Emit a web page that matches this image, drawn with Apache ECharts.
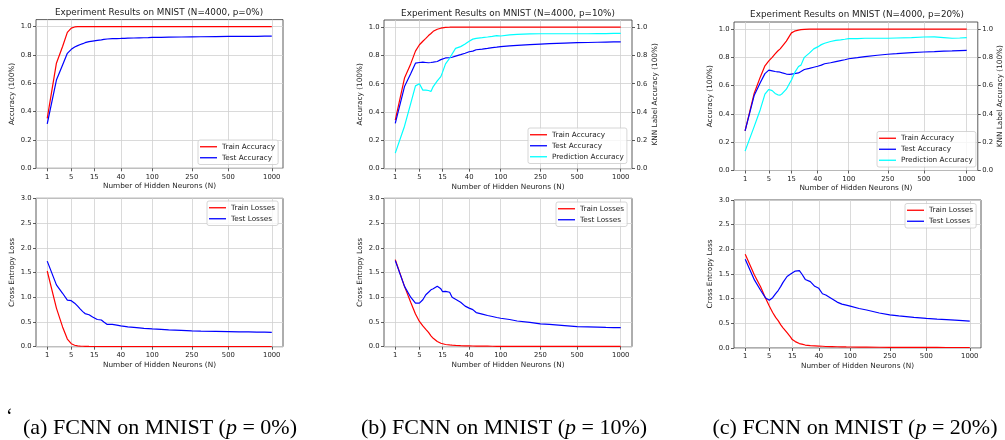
<!DOCTYPE html>
<html><head><meta charset="utf-8">
<script src="https://cdn.jsdelivr.net/npm/echarts@6/dist/echarts.min.js"></script>
<style>html,body{margin:0;padding:0;background:#fff}#c{width:1005px;height:440px}</style>
</head><body><div id="c"></div>
<script>
// ---------------- data ----------------
const hiddenNeurons = [1,2,3,4,5,6,7,8,9,10,12,14,15,17,20,22,25,30,35,40,45,50,60,70,80,90,100,125,150,200,250,300,400,500,600,700,800,900,1000];
const xTicks = [1,5,15,40,100,250,500,1000];
const accTicks = [0,0.2,0.4,0.6,0.8,1.0];
const lossTicks = [0,0.5,1.0,1.5,2.0,2.5,3.0];
const panelTitles = ['Experiment Results on MNIST (N=4000, p=0%)','Experiment Results on MNIST (N=4000, p=10%)','Experiment Results on MNIST (N=4000, p=20%)'];
const captionLabels = ['(a) FCNN on MNIST (','(b) FCNN on MNIST (','(c) FCNN on MNIST ('];
const captionP = ['0%)','10%)','20%)'];

// p = 0%
const aTrainAcc = [0.353,0.742,0.86,0.96,0.99,0.998,1,1,1,1,1,1,1,1,1,1,1,1,1,1,1,1,1,1,1,1,1,1,1,1,1,1,1,1,1,1,1,1,1];
const aTestAcc  = [0.313,0.623,0.73,0.812,0.84,0.857,0.866,0.874,0.88,0.887,0.894,0.898,0.90,0.903,0.907,0.91,0.913,0.915,0.916,0.917,0.918,0.919,0.92,0.921,0.922,0.923,0.924,0.925,0.926,0.927,0.928,0.929,0.93,0.931,0.931,0.932,0.932,0.933,0.933];
const aTrainLoss = [1.53,0.78,0.40,0.155,0.06,0.03,0.018,0.012,0.009,0.007,0.005,0.004,0.004,0.004,0.003,0.003,0.003,0.003,0.003,0.003,0.003,0.002,0.002,0.002,0.002,0.002,0.002,0.002,0.002,0.002,0.002,0.002,0.002,0.002,0.002,0.002,0.002,0.002,0.002];
const aTestLoss  = [1.73,1.25,1.08,0.94,0.93,0.88,0.82,0.76,0.71,0.67,0.645,0.60,0.57,0.55,0.54,0.50,0.45,0.45,0.435,0.42,0.41,0.40,0.39,0.38,0.37,0.365,0.36,0.35,0.34,0.33,0.32,0.315,0.31,0.305,0.30,0.30,0.295,0.293,0.29];

// p = 10%
const bTrainAcc = [0.343,0.64,0.74,0.83,0.875,0.90,0.92,0.94,0.955,0.97,0.985,0.992,0.995,0.998,0.999,1,1,1,1,1,1,1,1,1,1,1,1,1,1,1,1,1,1,1,1,1,1,1,1];
const bTestAcc  = [0.32,0.58,0.67,0.745,0.75,0.752,0.75,0.748,0.75,0.752,0.757,0.77,0.78,0.782,0.785,0.787,0.795,0.805,0.815,0.826,0.83,0.84,0.845,0.85,0.855,0.858,0.862,0.867,0.871,0.876,0.88,0.883,0.887,0.89,0.891,0.893,0.894,0.895,0.896];
const bPredAcc  = [0.11,0.30,0.46,0.585,0.60,0.555,0.555,0.552,0.545,0.58,0.62,0.65,0.68,0.74,0.78,0.81,0.85,0.862,0.88,0.90,0.915,0.92,0.925,0.93,0.935,0.94,0.937,0.945,0.948,0.952,0.953,0.953,0.953,0.953,0.953,0.954,0.954,0.955,0.955];
const bTrainLoss = [1.76,1.22,0.90,0.66,0.51,0.42,0.35,0.29,0.22,0.17,0.105,0.07,0.055,0.045,0.035,0.03,0.025,0.02,0.018,0.016,0.014,0.012,0.011,0.01,0.009,0.008,0.008,0.007,0.007,0.006,0.006,0.006,0.005,0.005,0.005,0.005,0.005,0.005,0.005];
const bTestLoss  = [1.74,1.22,1.0,0.88,0.88,0.95,1.05,1.10,1.15,1.17,1.22,1.17,1.115,1.12,1.10,1.0,0.96,0.90,0.82,0.78,0.75,0.69,0.66,0.63,0.61,0.59,0.575,0.55,0.52,0.49,0.46,0.45,0.425,0.405,0.40,0.395,0.39,0.387,0.385];

// p = 20%
const cTrainAcc = [0.28,0.545,0.66,0.74,0.775,0.80,0.825,0.845,0.86,0.88,0.915,0.955,0.973,0.985,0.993,0.996,0.998,0.999,1,1,1,1,1,1,1,1,1,1,1,1,1,1,1,1,1,1,1,1,1];
const cTestAcc  = [0.28,0.53,0.62,0.685,0.71,0.705,0.70,0.698,0.695,0.69,0.682,0.68,0.683,0.685,0.69,0.70,0.714,0.722,0.73,0.737,0.745,0.755,0.762,0.77,0.777,0.783,0.79,0.798,0.805,0.815,0.822,0.826,0.833,0.838,0.841,0.844,0.846,0.848,0.85];
const cPredAcc  = [0.137,0.31,0.43,0.54,0.573,0.565,0.545,0.535,0.533,0.545,0.575,0.62,0.64,0.69,0.735,0.745,0.80,0.83,0.86,0.874,0.89,0.90,0.912,0.92,0.924,0.928,0.933,0.932,0.935,0.935,0.935,0.937,0.94,0.944,0.945,0.94,0.935,0.937,0.94];
const cTrainLoss = [1.90,1.48,1.24,1.02,0.85,0.72,0.62,0.55,0.47,0.41,0.31,0.22,0.17,0.13,0.09,0.08,0.06,0.05,0.045,0.04,0.035,0.03,0.028,0.025,0.023,0.021,0.02,0.018,0.017,0.015,0.014,0.013,0.012,0.011,0.011,0.01,0.01,0.01,0.01];
const cTestLoss  = [1.80,1.38,1.17,1.02,0.97,1.02,1.10,1.17,1.25,1.33,1.45,1.50,1.515,1.56,1.57,1.50,1.39,1.345,1.25,1.21,1.10,1.075,1.0,0.93,0.89,0.87,0.85,0.80,0.77,0.71,0.67,0.65,0.62,0.60,0.585,0.575,0.565,0.555,0.545];

// ---------------- layout / style ----------------
const FONT = 'DejaVu Sans';
const TXT = '#222';
const RED = '#ff0000', BLUE = '#0000ff', CYAN = '#00ffff';
const scaleFn = n => Math.pow(n, 0.25);            // function scale x^(1/4)
const xLo = scaleFn(1), xHi = scaleFn(1000), xPad = (xHi - xLo) * 0.05;

const grids = [
  {left: 36,  top: 19.6, width: 247, height: 148.7},
  {left: 36,  top: 198.3, width: 247, height: 148.4},
  {left: 384, top: 20,   width: 248, height: 148.7},
  {left: 384, top: 198.3, width: 248, height: 148.4},
  {left: 734, top: 22,   width: 247, height: 148.5},
  {left: 734, top: 200,  width: 247, height: 148}
].map(g => Object.assign({show: true, borderColor: '#333', borderWidth: 0.8, backgroundColor: 'transparent'}, g));

const tickFont = {fontFamily: FONT, fontSize: 6.8, color: TXT};
const nameFont = {fontFamily: FONT, fontSize: 7.3, color: TXT};

const xAxes = grids.map((g, i) => ({
  gridIndex: i, type: 'value', min: xLo - xPad, max: xHi + xPad,
  name: 'Number of Hidden Neurons (N)', nameLocation: 'middle', nameGap: 14.5, nameTextStyle: nameFont,
  axisLine: {show: false},
  axisTick: {show: true, length: 3, inside: false, lineStyle: {color: '#333', width: 0.8}, customValues: xTicks.map(scaleFn)},
  axisLabel: {show: true, margin: 5, ...tickFont, customValues: xTicks.map(scaleFn),
              formatter: v => String(Math.round(Math.pow(v, 4)))},
  splitLine: {show: true, lineStyle: {color: '#d0d0d0', width: 0.8}}
}));

function yAxis(gridIndex, kind, position, name, split) {
  const ticks = kind === 'acc' ? accTicks : lossTicks;
  return {
    gridIndex, type: 'value', position, min: 0, max: kind === 'acc' ? 1.05 : 3.0,
    name, nameLocation: 'middle', nameRotate: 90, nameGap: position === 'left' ? 20 : 17, nameTextStyle: nameFont,
    axisLine: {show: false},
    axisTick: {show: true, length: 3, lineStyle: {color: '#333', width: 0.8}, customValues: ticks},
    axisLabel: {show: true, margin: 4.5, ...tickFont, customValues: ticks, formatter: v => v.toFixed(1)},
    splitLine: {show: split, lineStyle: {color: '#d0d0d0', width: 0.8}}
  };
}
const yAxes = [
  yAxis(0, 'acc', 'left', 'Accuracy (100%)', true),
  yAxis(1, 'loss', 'left', 'Cross Entropy Loss', true),
  yAxis(2, 'acc', 'left', 'Accuracy (100%)', true),
  yAxis(2, 'acc', 'right', 'KNN Label Accuracy (100%)', false),
  yAxis(3, 'loss', 'left', 'Cross Entropy Loss', true),
  yAxis(4, 'acc', 'left', 'Accuracy (100%)', true),
  yAxis(4, 'acc', 'right', 'KNN Label Accuracy (100%)', false),
  yAxis(5, 'loss', 'left', 'Cross Entropy Loss', true)
];

function line(name, vals, color, xi, yi) {
  return {
    type: 'line', name, xAxisIndex: xi, yAxisIndex: yi, symbol: 'none', showSymbol: false,
    lineStyle: {color, width: 1.2}, itemStyle: {color}, animation: false, silent: true,
    data: hiddenNeurons.map((n, k) => [scaleFn(n), vals[k]])
  };
}
const series = [
  line('Train Accuracy', aTrainAcc, RED, 0, 0),
  line('Test Accuracy', aTestAcc, BLUE, 0, 0),
  line('Train Losses', aTrainLoss, RED, 1, 1),
  line('Test Losses', aTestLoss, BLUE, 1, 1),
  line('Train Accuracy', bTrainAcc, RED, 2, 2),
  line('Test Accuracy', bTestAcc, BLUE, 2, 2),
  line('Prediction Accuracy', bPredAcc, CYAN, 2, 3),
  line('Train Losses', bTrainLoss, RED, 3, 4),
  line('Test Losses', bTestLoss, BLUE, 3, 4),
  line('Train Accuracy', cTrainAcc, RED, 4, 5),
  line('Test Accuracy', cTestAcc, BLUE, 4, 5),
  line('Prediction Accuracy', cPredAcc, CYAN, 4, 6),
  line('Train Losses', cTrainLoss, RED, 5, 7),
  line('Test Losses', cTestLoss, BLUE, 5, 7)
];

function legend(names, left, top) {
  return {
    data: names, orient: 'vertical', left, top, icon: 'rect', itemWidth: 17, itemHeight: 1.3, itemGap: 3.5,
    padding: [3, 3, 3, 2], borderColor: '#cccccc', borderWidth: 0.8, borderRadius: 2,
    backgroundColor: 'rgba(255,255,255,0.8)', selectedMode: false,
    textStyle: {fontFamily: FONT, fontSize: 7.3, lineHeight: 7.5, color: TXT, padding: [0, 0, 0, 0]}
  };
}
const legends = [
  legend(['Train Accuracy', 'Test Accuracy'], 198, 140),
  legend(['Train Losses', 'Test Losses'], 207, 201),
  legend(['Train Accuracy', 'Test Accuracy', 'Prediction Accuracy'], 528, 128),
  legend(['Train Losses', 'Test Losses'], 556, 202),
  legend(['Train Accuracy', 'Test Accuracy', 'Prediction Accuracy'], 877, 131.5),
  legend(['Train Losses', 'Test Losses'], 905, 203.5)
];

const titleCenters = [[159, 8.5], [508, 9], [857, 10.5]];
const titles = panelTitles.map((t, i) => ({
  text: t, left: titleCenters[i][0], top: titleCenters[i][1], textAlign: 'center', padding: 0,
  textStyle: {fontFamily: FONT, fontSize: 8.8, fontWeight: 'normal', color: TXT}
}));

const capCenters = [160, 504, 855];
const graphics = captionLabels.map((c, i) => ({
  type: 'text', x: capCenters[i], y: 428,
  style: {
    text: '{n|' + c + '}{i|p}{n| = ' + captionP[i] + '}',
    align: 'center', verticalAlign: 'middle',
    rich: {
      n: {fontFamily: 'Liberation Serif', fontSize: 22, fill: '#000'},
      i: {fontFamily: 'Liberation Serif', fontSize: 22, fontStyle: 'italic', fill: '#000'}
    }
  }
}));
graphics.push({type: 'text', x: 6, y: 418, style: {text: '\u2018', fontFamily: 'Liberation Serif', fontSize: 20, fill: '#000', align: 'left', verticalAlign: 'middle'}});

const chart = echarts.init(document.getElementById('c'), null, {renderer: 'canvas'});
chart.setOption({
  animation: false,
  title: titles,
  grid: grids,
  xAxis: xAxes,
  yAxis: yAxes,
  legend: legends,
  series,
  graphic: graphics
});
</script></body></html>
